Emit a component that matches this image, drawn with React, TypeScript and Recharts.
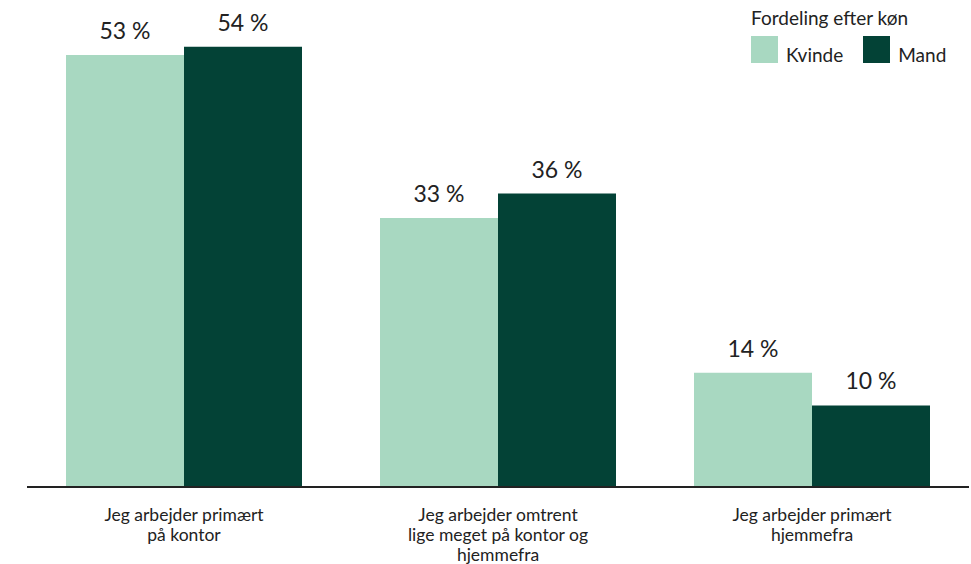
import React from 'react';
import { BarChart, Bar, XAxis, YAxis, LabelList } from 'recharts';

const categories = [
  ['Jeg arbejder primært', 'på kontor'],
  ['Jeg arbejder omtrent', 'lige meget på kontor og', 'hjemmefra'],
  ['Jeg arbejder primært', 'hjemmefra'],
];
const kvinde = [53, 33, 14];
const mand = [54, 36, 10];
const seriesNames = ['Kvinde', 'Mand'];
const legendTitle = 'Fordeling efter køn';

const COLORS = ['#a8d8c1', '#034236'];
const FONT = 'Lato, "Open Sans", sans-serif';
const TEXT = '#222222';

const data = categories.map((lines, i) => ({
  name: lines.join(' '),
  kvinde: kvinde[i],
  mand: mand[i],
}));

const CategoryTick: React.FC<any> = ({ x, y, payload, index }) => {
  const lines: string[] = categories[index] ?? [String(payload.value)];
  return (
    <text x={x} y={y} textAnchor="middle" fill={TEXT} fontSize={17.5} fontFamily={FONT}>
      {lines.map((l, i) => (
        <tspan key={i} x={x} dy={i === 0 ? 26 : 20}>{l}</tspan>
      ))}
    </text>
  );
};

// legend drawn as plain html on top of the chart
const LegendBox: React.FC = () => (
  <div style={{ position: 'absolute', left: 751, top: 6, fontFamily: FONT, color: TEXT }}>
    <div style={{ fontSize: 19, lineHeight: '24px', marginBottom: 6 }}>{legendTitle}</div>
    <div style={{ display: 'flex', alignItems: 'flex-end' }}>
      {seriesNames.map((n, i) => (
        <div key={n} style={{ display: 'flex', alignItems: 'flex-end', marginRight: i === 0 ? 20 : 0 }}>
          <div style={{ width: 27, height: 27, background: COLORS[i], marginRight: 8 }} />
          <span style={{ fontSize: 19, lineHeight: '19px', marginBottom: -1 }}>{n}</span>
        </div>
      ))}
    </div>
  </div>
);

const labelFmt = (v: any) => `${v} %`;

export default function App() {
  return (
    <div style={{ position: 'absolute', left: 0, top: 0, width: 971, height: 564, background: '#fff' }}>
      <BarChart
        width={971}
        height={564}
        data={data}
        margin={{ top: 6, right: 2, left: 27, bottom: 0 }}
        barCategoryGap={39}
        barGap={0}
      >
        <XAxis
          dataKey="name"
          height={77}
          tickLine={false}
          axisLine={{ stroke: '#222', strokeWidth: 2 }}
          tick={<CategoryTick />}
          interval={0}
        />
        <YAxis hide type="number" domain={[0, 59]} allowDataOverflow />
        <Bar dataKey="kvinde" name={seriesNames[0]} fill={COLORS[0]} isAnimationActive={false}>
          <LabelList dataKey="kvinde" position="top" offset={16} formatter={labelFmt}
            style={{ fill: TEXT, fontSize: 23, fontFamily: FONT }} />
        </Bar>
        <Bar dataKey="mand" name={seriesNames[1]} fill={COLORS[1]} isAnimationActive={false}>
          <LabelList dataKey="mand" position="top" offset={16} formatter={labelFmt}
            style={{ fill: TEXT, fontSize: 23, fontFamily: FONT }} />
        </Bar>
      </BarChart>
      <LegendBox />
    </div>
  );
}
